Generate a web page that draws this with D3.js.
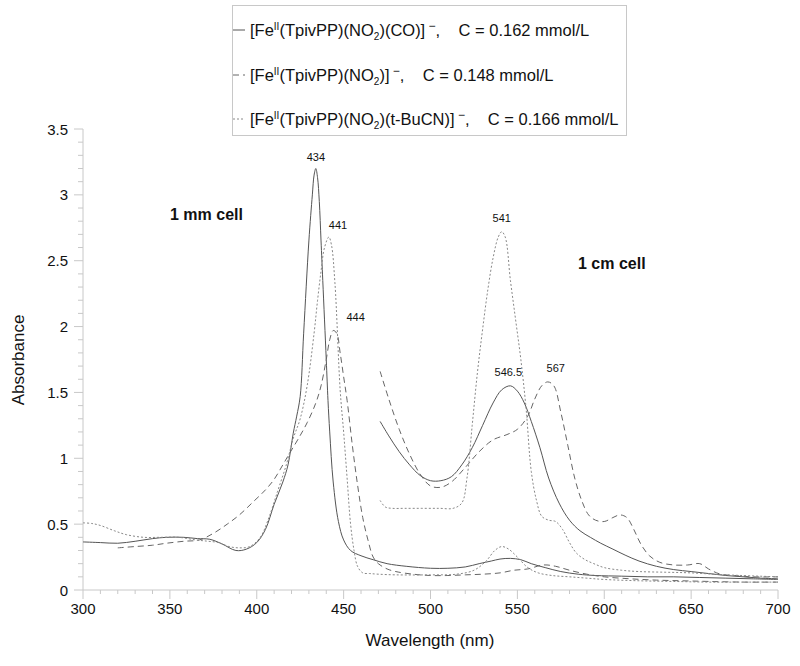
<!DOCTYPE html>
<html>
<head>
<meta charset="utf-8">
<script src="https://cdn.jsdelivr.net/npm/d3@7"></script>
<style>
  body { margin: 0; background: #fff; }
  svg text { font-family: "Liberation Sans", Arial, Helvetica, sans-serif; fill: #111; }
</style>
</head>
<body>
<svg id="chart" width="800" height="666"></svg>
<script>
// ---- data ----
// CO complex, 1 mm cell
const coShortWl = [300,310,320,330,340,348,358,366,373,380,388,394,400,405,410,415,418,421,423,425,427,430,432,433,434,435,436,437,438,440,441,442,444,447,450,454,460,467,475,486,500,510,520,528,535,540,546,552,558,566,575,585,595,610,625,640,655,670,685,700];
const coShortA  = [0.365,0.36,0.355,0.37,0.39,0.40,0.40,0.39,0.385,0.35,0.30,0.31,0.36,0.46,0.65,0.82,0.95,1.19,1.32,1.47,1.95,2.65,3.0,3.15,3.20,3.13,2.95,2.65,2.35,1.75,1.44,1.2,0.82,0.52,0.38,0.30,0.26,0.23,0.20,0.18,0.165,0.165,0.175,0.20,0.22,0.235,0.24,0.23,0.2,0.17,0.14,0.12,0.11,0.105,0.1,0.1,0.095,0.09,0.085,0.08];
// CO complex, 1 cm cell
const coLongWl = [471,476,482,488,494,500,506,512,518,524,530,536,541,546,550,554,558,563,568,574,580,586,592,598,605,612,620,630,640,650,660,670,680,690,700];
const coLongA  = [1.28,1.17,1.05,0.95,0.87,0.83,0.83,0.86,0.95,1.08,1.25,1.42,1.52,1.55,1.51,1.42,1.28,1.08,0.85,0.66,0.53,0.45,0.40,0.355,0.31,0.265,0.22,0.18,0.155,0.14,0.125,0.11,0.10,0.09,0.085];

// NO2 complex, 1 mm cell
const no2ShortWl = [320,330,340,348,358,367,375,383,390,398,405,410,415,419,424,429,434,437,440,442,444,446,448,450,452,455,458,461,464,467,470,475,480,490,500,510,520,530,540,548,556,565,572,580,590,600,615,630,645,660,680,700];
const no2ShortA  = [0.32,0.33,0.34,0.355,0.37,0.38,0.43,0.50,0.57,0.67,0.76,0.84,0.95,1.04,1.15,1.27,1.42,1.55,1.75,1.90,1.97,1.95,1.80,1.62,1.44,1.10,0.80,0.55,0.38,0.25,0.20,0.16,0.14,0.12,0.11,0.11,0.115,0.12,0.13,0.15,0.16,0.19,0.18,0.15,0.12,0.10,0.085,0.075,0.07,0.065,0.06,0.06];
// NO2 complex, 1 cm cell
const no2LongWl = [471,476,482,488,494,500,506,512,520,528,536,544,550,556,560,564,567.5,571,575,579,583,587,591,595,600,605,609,613,617,621,626,632,640,648,655,660,667,675,685,700];
const no2LongA  = [1.66,1.45,1.22,1.03,0.88,0.79,0.78,0.82,0.93,1.05,1.14,1.18,1.22,1.32,1.45,1.55,1.58,1.55,1.35,1.10,0.85,0.68,0.57,0.53,0.52,0.55,0.57,0.55,0.46,0.35,0.26,0.21,0.19,0.19,0.20,0.16,0.12,0.11,0.10,0.10];

// t-BuCN complex, 1 mm cell
const cnShortWl = [300,305,310,318,325,335,345,355,365,372,378,384,390,396,402,407,412,417,421,425,429,433,435,437,439,441.5,443,445,448,450,452,454,456,458,461,465,470,480,500,515,525,532,537,541,545,550,556,562,570,580,590,600,620,640,660,680,700];
const cnShortA  = [0.51,0.505,0.49,0.45,0.42,0.40,0.40,0.40,0.38,0.37,0.36,0.33,0.32,0.33,0.40,0.55,0.75,0.95,1.15,1.30,1.55,1.95,2.2,2.42,2.6,2.68,2.62,2.33,1.52,1.2,0.85,0.50,0.30,0.18,0.13,0.125,0.12,0.115,0.115,0.12,0.15,0.22,0.30,0.33,0.31,0.25,0.17,0.13,0.11,0.10,0.09,0.08,0.07,0.065,0.06,0.06,0.06];
// t-BuCN complex, 1 cm cell
const cnLongWl = [471,474,478,485,495,505,513,518,521,524,527,530,533,536,539,541,543,546,549,552,555,558,561,564,568,572,576,580,584,589,594,600,610,620,635,650,670,700];
const cnLongA  = [0.68,0.63,0.62,0.62,0.62,0.62,0.62,0.66,0.85,1.25,1.65,1.98,2.28,2.52,2.68,2.72,2.68,2.35,2.05,1.75,1.38,0.9,0.68,0.56,0.53,0.52,0.46,0.36,0.28,0.23,0.20,0.17,0.15,0.14,0.135,0.13,0.115,0.10];

const legendNames = ["(CO)", "", "(t-BuCN)"];
const legendConc = ["0.162", "0.148", "0.166"];
const styles = ["", "6,4", "2,2"];
const strokes = ["#555", "#666", "#888"];

const peakLabels = ["434", "441", "444", "541", "546.5", "567"];
const peakWl = [434, 441, 446, 541, 546.5, 567.5];
const peakA  = [3.20, 2.68, 1.97, 2.72, 1.55, 1.58];

const xTicks = [300, 350, 400, 450, 500, 550, 600, 650, 700];
const yTicks = [0, 0.5, 1, 1.5, 2, 2.5, 3, 3.5];

// ---- layout ----
const svg = d3.select("#chart");
const x = d3.scaleLinear().domain([300, 700]).range([83, 778]);
const y = d3.scaleLinear().domain([0, 3.5]).range([590, 129]);
const axisColor = "#c8c8c8";

// y axis line + ticks
svg.append("line").attr("x1", x(300)).attr("x2", x(300)).attr("y1", y(0)).attr("y2", y(3.5))
  .attr("stroke", axisColor);
d3.range(0, 35.01, 1).forEach(i => {
  const v = i / 10;
  const major = i % 5 === 0;
  svg.append("line").attr("x1", x(300) - (major ? 9 : 5)).attr("x2", x(300))
    .attr("y1", y(v)).attr("y2", y(v)).attr("stroke", axisColor);
});
svg.selectAll(".ylab").data(yTicks).join("text")
  .attr("x", 68).attr("y", d => y(d) + 5.5)
  .attr("text-anchor", "end").style("font-size", "15px")
  .text(d => d);

// x axis line + ticks
svg.append("line").attr("x1", x(300)).attr("x2", x(700)).attr("y1", y(0)).attr("y2", y(0))
  .attr("stroke", axisColor);
d3.range(300, 701, 10).forEach(v => {
  const major = v % 50 === 0;
  svg.append("line").attr("x1", x(v)).attr("x2", x(v))
    .attr("y1", y(0)).attr("y2", y(0) + (major ? 9 : 4)).attr("stroke", axisColor);
});
svg.selectAll(".xlab").data(xTicks).join("text")
  .attr("x", d => x(d)).attr("y", 614)
  .attr("text-anchor", "middle").style("font-size", "15px")
  .text(d => d);

// axis titles
svg.append("text").attr("transform", "translate(24,360) rotate(-90)")
  .attr("text-anchor", "middle").style("font-size", "17px").text("Absorbance");
svg.append("text").attr("x", 430).attr("y", 646)
  .attr("text-anchor", "middle").style("font-size", "17px").text("Wavelength (nm)");

// ---- curves ----
const line = d3.line().x(d => x(d[0])).y(d => y(d[1])).curve(d3.curveCatmullRom.alpha(0.5));
const series = [
  [coShortWl, coShortA, 0], [coLongWl, coLongA, 0],
  [no2ShortWl, no2ShortA, 1], [no2LongWl, no2LongA, 1],
  [cnShortWl, cnShortA, 2], [cnLongWl, cnLongA, 2]
];
series.forEach(([wl, a, k]) => {
  svg.append("path")
    .datum(wl.map((w, i) => [w, a[i]]))
    .attr("d", line)
    .attr("fill", "none")
    .attr("stroke", strokes[k])
    .attr("stroke-width", 1)
    .attr("stroke-dasharray", styles[k] || null);
});

// peak labels
const labelOffsets = [[0, -8], [10, -8], [19, -10], [0, -10], [-3, -10], [8, -10]];
peakLabels.forEach((t, i) => {
  svg.append("text")
    .attr("x", x(peakWl[i]) + labelOffsets[i][0])
    .attr("y", y(peakA[i]) + labelOffsets[i][1])
    .attr("text-anchor", "middle").style("font-size", "11px")
    .text(t);
});

// cell annotations
svg.append("text").attr("x", 170).attr("y", 220).style("font-size", "16px")
  .style("font-weight", "bold").text("1 mm cell");
svg.append("text").attr("x", 578).attr("y", 269).style("font-size", "16px")
  .style("font-weight", "bold").text("1 cm cell");

// ---- legend ----
const lg = svg.append("g");
lg.append("rect").attr("x", 232.5).attr("y", 5.5).attr("width", 394).attr("height", 130)
  .attr("fill", "#fff").attr("stroke", axisColor);
const rowY = [30, 75, 119];
legendNames.forEach((name, i) => {
  lg.append("line").attr("x1", 233).attr("x2", 245).attr("y1", rowY[i]).attr("y2", rowY[i])
    .attr("stroke", strokes[i]).attr("stroke-dasharray", styles[i] || null);
  const t = lg.append("text").attr("x", 250).attr("y", rowY[i] + 6).style("font-size", "16.5px");
  t.append("tspan").text("[Fe");
  t.append("tspan").attr("dy", -6).style("font-size", "10px").text("II");
  t.append("tspan").attr("dy", 6).text("(TpivPP)(NO");
  t.append("tspan").attr("dy", 4).style("font-size", "10px").text("2");
  t.append("tspan").attr("dy", -4).text(")" + name + "]");
  t.append("tspan").attr("dy", -6).style("font-size", "12px").text("\u00a0\u2212");
  t.append("tspan").attr("dy", 6).text(",\u00a0\u00a0\u00a0\u00a0C = " + legendConc[i] + " mmol/L");
});
</script>
</body>
</html>
